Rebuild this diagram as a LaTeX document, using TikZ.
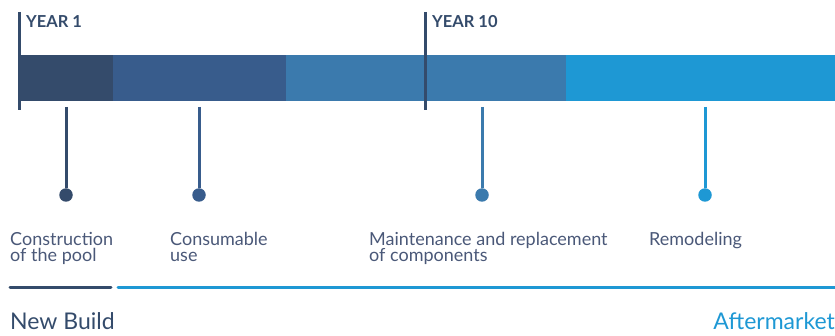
\documentclass[tikz,border=0pt]{standalone}
\usepackage{fontspec}
\setmainfont{Lato}
\usepackage{tikz}
\usetikzlibrary{positioning}

\definecolor{phaseA}{HTML}{344B6B}
\definecolor{phaseB}{HTML}{385C8C}
\definecolor{phaseC}{HTML}{3B7AAD}
\definecolor{phaseD}{HTML}{1E98D4}
\definecolor{labelgray}{HTML}{4A5878}

\tikzset{
    segment/.style={fill=#1, draw=none},
    yearmark/.style={draw=phaseA, line width=3pt},
    yearlabel/.style={
        anchor=north west,
        inner sep=0pt,
        text=phaseA,
        font=\fontsize{16.5}{17}\selectfont\bfseries
    },
    stem/.style={draw=#1, line width=3pt},
    dot/.style={
        circle,
        fill=#1,
        minimum size=13.5pt,
        inner sep=0pt
    },
    stage/.style={
        anchor=north west,
        inner sep=0pt,
        align=left,
        text=labelgray,
        font=\fontsize{18}{16.5}\selectfont
    },
    marketline/.style={draw=#1, line width=3pt, line cap=round},
    market/.style={
        inner sep=0pt,
        text=#1,
        font=\fontsize{23}{24}\selectfont
    }
}

\begin{document}
\begin{tikzpicture}[x=1pt,y=-1pt]
                \useasboundingbox (0,0) rectangle (835,336);

                % -- Bar -- %
                \fill[segment=phaseA] (19,55) rectangle (113,101);
                \fill[segment=phaseB] (113,55) rectangle (286,101);
                \fill[segment=phaseC] (286,55) rectangle (566,101);
                \fill[segment=phaseD] (566,55) rectangle (835,101);

                % -- Years -- %
                \coordinate (yearOneTop) at (19,12);
                \coordinate (yearOneBot) at (19,110);
                \draw[yearmark] (yearOneTop) -- (yearOneBot);
                \node[yearlabel] (yearOne) at (26,15) {YEAR 1};

                \coordinate (yearTenTop) at (425,12);
                \coordinate (yearTenBot) at (425,110);
                \draw[yearmark] (yearTenTop) -- (yearTenBot);
                \node[yearlabel] (yearTen) at (432,15) {YEAR 10};

                % -- Stages -- %
                \coordinate (buildTop) at (66,107);
                \node[dot=phaseA] (buildDot) at (66,195) {};
                \draw[stem=phaseA] (buildTop) -- (buildDot);
                \node[stage] (build) at (10,232) {Construction\\of the pool};

                \coordinate (useTop) at (199,107);
                \node[dot=phaseB] (useDot) at (199,195) {};
                \draw[stem=phaseB] (useTop) -- (useDot);
                \node[stage] (use) at (170,232) {Consumable\\use};

                \coordinate (maintTop) at (482,107);
                \node[dot=phaseC] (maintDot) at (482,195) {};
                \draw[stem=phaseC] (maintTop) -- (maintDot);
                \node[stage] (maint) at (369,232) {Maintenance and replacement\\of components};

                \coordinate (remodTop) at (705,107);
                \node[dot=phaseD] (remodDot) at (705,195) {};
                \draw[stem=phaseD] (remodTop) -- (remodDot);
                \node[stage] (remod) at (649,232) {Remodeling};

                % -- Markets -- %
                \coordinate (newStart) at (10,288);
                \coordinate (newEnd) at (111,288);
                \draw[marketline=phaseA] (newStart) -- (newEnd);
                \node[market=phaseA, anchor=base west] (newBuild) at (10,330) {New Build};

                \coordinate (afterStart) at (118,288);
                \coordinate (afterEnd) at (836,288);
                \draw[marketline=phaseD] (afterStart) -- (afterEnd);
                \node[market=phaseD, anchor=base east] (after) at (835,330) {Aftermarket};
            \end{tikzpicture}
\end{document}
